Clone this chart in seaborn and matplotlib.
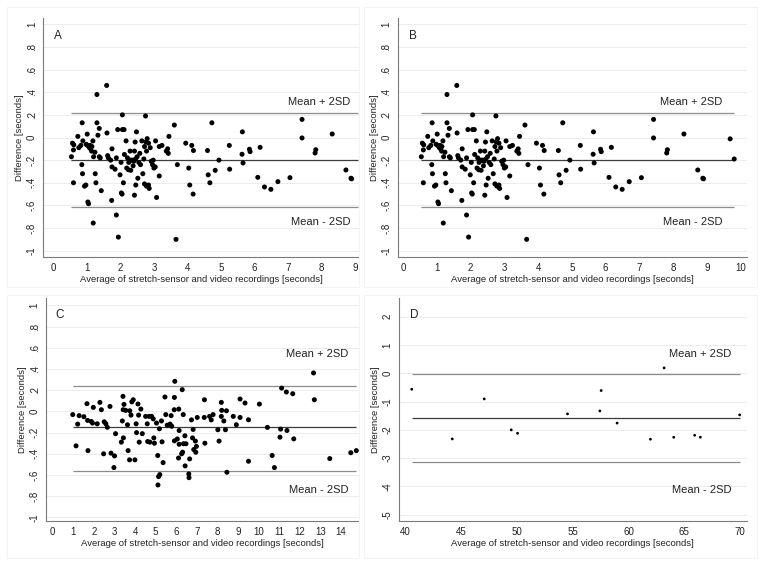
import numpy as np
import pandas as pd
import matplotlib
matplotlib.use("Agg")
import matplotlib.pyplot as plt
import seaborn as sns
from matplotlib.patches import Rectangle

#### Data

# Panel A: average [s] and difference [s]
a_x = [1.59, 1.30, 2.06, 2.75, 0.86, 1.30, 4.73, 3.61, 1.37, 1.92, 2.06, 2.11, 2.48, 1.60,
       1.33, 1.01, 0.73, 3.45, 1.18, 0.88, 0.57, 0.61, 0.76, 0.82, 1.02, 1.07, 1.11, 1.14,
       0.60, 0.54, 1.20, 1.37, 1.75, 1.62, 1.64, 1.71, 1.75, 1.84, 2.12, 2.21, 2.29, 2.42,
       2.44, 2.17, 2.64, 2.76, 2.80, 2.84, 2.89, 3.05, 3.16, 3.24, 3.37, 3.41, 3.43, 3.95,
       4.13, 4.18, 3.70, 4.04, 4.07, 4.17, 4.60, 4.94, 4.62, 4.67, 4.83, 5.25, 5.26, 0.60,
       0.87, 0.85, 0.93, 0.97, 1.03, 1.05, 1.25, 1.27, 1.43, 1.19, 1.74, 1.88, 1.94, 3.66,
       1.99, 2.09, 2.05, 2.03, 2.42, 2.52, 2.46, 2.24, 2.31, 2.19, 2.67, 2.72, 2.78, 2.86,
       2.84, 3.04, 3.08, 3.16, 2.96, 2.38, 2.35, 2.55, 2.60, 2.30, 2.40, 2.45, 2.50, 2.58,
       2.70, 2.72, 2.78, 2.92, 2.98, 3.00, 1.88, 2.02, 2.25, 1.10, 1.15, 1.24, 1.08, 0.98,
       1.40, 5.64, 5.63, 5.66, 5.85, 5.87, 6.17, 6.10, 6.30, 6.49, 6.70, 7.06, 7.42, 7.42,
       7.83, 7.81, 8.32, 8.73, 8.88, 8.90]
a_y = [0.46, 0.38, 0.20, 0.19, 0.13, 0.13, 0.13, 0.11, 0.08, 0.07, 0.07, 0.07, 0.05, 0.04,
       0.02, 0.03, 0.01, 0.01, -0.03, -0.03, -0.05, -0.065, -0.09, -0.07, -0.07, -0.085, -0.10, -0.12,
       -0.11, -0.17, -0.17, -0.17, -0.10, -0.16, -0.18, -0.20, -0.26, -0.28, -0.15, -0.18, -0.12, -0.12,
       -0.04, -0.03, -0.03, -0.04, -0.01, -0.05, -0.09, -0.03, -0.08, -0.07, -0.12, -0.10, -0.14, -0.05,
       -0.07, -0.115, -0.24, -0.27, -0.42, -0.50, -0.115, -0.20, -0.33, -0.40, -0.29, -0.07, -0.28, -0.40,
       -0.32, -0.24, -0.43, -0.42, -0.57, -0.585, -0.32, -0.40, -0.47, -0.756, -0.556, -0.685, -0.88, -0.90,
       -0.33, -0.40, -0.50, -0.49, -0.51, -0.36, -0.42, -0.285, -0.29, -0.27, -0.32, -0.41, -0.43, -0.45,
       -0.42, -0.26, -0.53, -0.34, -0.24, -0.25, -0.20, -0.22, -0.24, -0.20, -0.21, -0.19, -0.17, -0.14,
       -0.19, -0.08, -0.12, -0.21, -0.20, -0.27, -0.18, -0.22, -0.22, -0.07, -0.08, -0.13, -0.09, -0.06,
       -0.18, 0.05, -0.148, -0.225, -0.104, -0.125, -0.087, -0.352, -0.437, -0.458, -0.39, -0.355, 0.16, -0.004,
       -0.108, -0.137, 0.031, -0.287, -0.36, -0.365]
a_lims = [0.22, -0.199, -0.614]   # mean + 2SD, mean, mean - 2SD

# Panel B: same recordings as A plus two long ones
b_extra_x = [9.69, 9.81]
b_extra_y = [-0.012, -0.19]
b_x = a_x + b_extra_x
b_y = a_y + b_extra_y
b_lims = [0.22, -0.199, -0.614]

# Panel C
c_x = [0.97, 1.21, 1.13, 1.28, 1.51, 1.69, 1.66, 1.71, 1.87, 1.97, 1.93, 2.16, 2.29, 2.36,
       2.47, 2.50, 2.58, 2.65, 2.78, 2.83, 2.97, 3.00, 3.05, 3.33, 3.41, 3.42, 3.46, 3.43,
       3.38, 3.54, 3.63, 3.66, 3.73, 3.74, 3.80, 3.84, 3.91, 3.99, 4.05, 4.07, 4.14, 4.17,
       4.20, 4.28, 4.35, 4.51, 4.61, 4.72, 4.59, 4.68, 4.80, 4.88, 4.91, 4.94, 5.04, 5.10,
       5.11, 5.14, 5.20, 5.18, 5.28, 5.31, 5.36, 5.45, 5.49, 5.56, 5.70, 5.78, 5.75, 5.90,
       5.91, 5.93, 5.91, 6.05, 6.12, 6.14, 6.14, 6.11, 6.26, 6.29, 6.31, 6.34, 6.35, 6.42,
       6.43, 6.47, 6.61, 6.62, 6.65, 6.74, 6.82, 6.79, 6.85, 6.93, 6.98, 7.02, 6.95, 7.37,
       7.36, 7.39, 7.62, 7.70, 7.79, 8.02, 8.08, 8.19, 8.19, 8.21, 8.31, 8.39, 8.44, 8.46,
       8.77, 8.92, 9.10, 9.10, 9.34, 9.51, 9.51, 10.04, 10.43, 10.66, 10.77, 11.04, 11.07, 11.12,
       11.35, 11.38, 11.66, 11.71, 12.67, 12.71, 13.46, 14.48, 14.75]
c_y = [-0.03, -0.12, -0.325, -0.04, -0.05, -0.085, 0.073, -0.37, -0.095, 0.038, -0.11, -0.117, 0.085, 0.016,
       -0.40, -0.098, -0.117, -0.15, 0.047, -0.394, -0.53, -0.42, -0.21, -0.29, 0.142, 0.016, 0.066, -0.25,
       -0.09, 0.01, -0.126, -0.37, -0.457, 0.006, -0.035, 0.09, 0.11, -0.457, -0.117, -0.20, 0.07, -0.035,
       -0.29, 0.022, -0.21, -0.047, -0.284, -0.29, -0.117, -0.047, -0.047, -0.07, -0.25, -0.30, -0.11, -0.416,
       -0.694, -0.615, -0.596, -0.164, -0.09, -0.287, -0.483, 0.136, -0.03, -0.13, -0.12, -0.14, -0.04, 0.016,
       0.132, 0.284, -0.278, -0.26, 0.022, -0.18, -0.31, -0.44, -0.40, 0.205, -0.385, -0.03, -0.305, -0.23,
       -0.514, -0.305, -0.59, -0.625, -0.448, -0.08, -0.17, -0.25, -0.36, -0.28, -0.33, -0.057, -0.385, 0.11,
       -0.057, -0.30, -0.047, -0.08, -0.03, -0.173, -0.28, 0.085, -0.047, 0.01, -0.09, -0.173, 0.006, -0.574,
       -0.047, -0.126, 0.117, -0.057, 0.079, -0.079, -0.47, 0.069, -0.151, -0.416, -0.53, -0.243, -0.167, 0.22,
       0.183, -0.18, 0.167, -0.259, 0.363, 0.11, -0.445, -0.39, -0.37]
c_lims = [0.243, -0.151, -0.558]

# Panel D
d_x = [40.54, 47.05, 44.18, 49.47, 50.04, 54.52, 57.42, 57.54, 63.19, 58.97, 61.96, 64.05,
       65.93, 66.44, 69.97]
d_y = [-0.565, -0.906, -2.32, -2.0, -2.12, -1.435, -1.33, -0.61, 0.19, -1.76, -2.33, -2.26,
       -2.19, -2.26, -1.47]
d_lims = [-0.035, -1.565, -3.12]

letters = ["A", "B", "C", "D"]
x_title = "Average of stretch-sensor and video recordings [seconds]"
y_title = "Difference [seconds]"
upper_text = "Mean + 2SD"
lower_text = "Mean - 2SD"


def stata_fmt(v, pos=None):
    # Stata style labels: .2, -.4, 0, 1
    if abs(v) < 1e-9:
        return "0"
    return f"{v:g}".replace("0.", ".")


##### Figure setup
sns.set_style("white")
plt.rcParams['font.family'] = ['Liberation Sans', 'DejaVu Sans']

W, H = 765, 569
fig = plt.figure(figsize=(W / 100, H / 100), dpi=100)
fig.patch.set_facecolor("white")


def px_rect(l, t, r, b):
    return [l / W, 1 - b / H, (r - l) / W, (b - t) / H]


# very faint graph-region frames
for (l, t, r, b) in [(7, 7, 359, 287), (364, 7, 757, 287), (7, 295, 359, 558), (364, 295, 757, 558)]:
    fig.patches.append(Rectangle((l / W, 1 - b / H), (r - l) / W, (b - t) / H,
                                 transform=fig.transFigure, fill=False,
                                 edgecolor="#f3f3f3", linewidth=0.8))

panels = [
    dict(x=a_x, y=a_y, lims=a_lims, rect=px_rect(43.3, 18, 359, 257),
         xlim=(-0.3, 9.12), xticks=np.arange(0, 10), ylim=(-1.056, 1.056),
         yticks=np.round(np.arange(-1, 1.01, 0.2), 1), size=13, line_end=9.08,
         text_x=8.86, up_y=0.31, low_y=-0.744),
    dict(x=b_x, y=b_y, lims=b_lims, rect=px_rect(397.7, 18, 746.7, 257),
         xlim=(-0.16, 10.18), xticks=np.arange(0, 11), ylim=(-1.056, 1.056),
         yticks=np.round(np.arange(-1, 1.01, 0.2), 1), size=13, line_end=None,
         text_x=9.47, up_y=0.31, low_y=-0.75),
    dict(x=c_x, y=c_y, lims=c_lims, rect=px_rect(46, 298, 359, 521),
         xlim=(-0.33, 14.88), xticks=np.arange(0, 15), ylim=(-1.034, 1.07),
         yticks=np.round(np.arange(-1, 1.01, 0.2), 1), size=13, line_end=None,
         text_x=14.38, up_y=0.546, low_y=-0.74),
    dict(x=d_x, y=d_y, lims=d_lims, rect=px_rect(399, 298, 746.7, 521),
         xlim=(39.4, 70.6), xticks=np.arange(40, 71, 5), ylim=(-5.22, 2.66),
         yticks=np.arange(-5, 3), size=4, line_end=None,
         text_x=69.2, up_y=0.68, low_y=-4.12),
]

for letter, p in zip(letters, panels):
    ax = fig.add_axes(p["rect"])
    df = pd.DataFrame({"avg": p["x"], "diff": p["y"]})

    # limits of agreement
    x0 = min(p["x"])
    x1 = p["line_end"] if p["line_end"] is not None else max(p["x"])
    up, mean, low = p["lims"]
    ax.hlines([up, low], x0, x1, color="#8c8c8c", linewidth=0.9, zorder=2)
    ax.hlines(mean, x0, x1, color="#3c3c3c", linewidth=0.9, zorder=2)

    sns.scatterplot(data=df, x="avg", y="diff", ax=ax, color="black", s=p["size"],
                    edgecolor="none", linewidth=0, zorder=3, legend=False)

    ax.set_xlim(*p["xlim"])
    ax.set_ylim(*p["ylim"])
    ax.set_xticks(p["xticks"])
    ax.set_yticks(p["yticks"])
    ax.yaxis.set_major_formatter(plt.FuncFormatter(stata_fmt))

    ax.yaxis.grid(True, color="#e8eef0", linewidth=0.7)
    ax.xaxis.grid(False)
    ax.set_axisbelow(True)

    for side in ["top", "right"]:
        ax.spines[side].set_visible(False)
    for side in ["left", "bottom"]:
        ax.spines[side].set_color("#7a7a7a")
        ax.spines[side].set_linewidth(0.8)

    ax.tick_params(axis="both", which="major", direction="out", length=3, width=0.7,
                   color="#7a7a7a", labelsize=7, pad=1.5, labelcolor="#222222")
    for lab in ax.get_yticklabels():
        lab.set_rotation(90)
        lab.set_va("center")

    ax.set_xlabel(x_title, fontsize=6.8, labelpad=1, color="#222222")
    ax.set_ylabel(y_title, fontsize=6.8, labelpad=2, color="#222222")

    ax.text(p["text_x"], p["up_y"], upper_text, ha="right", va="center", fontsize=8, color="#222222")
    ax.text(p["text_x"], p["low_y"], lower_text, ha="right", va="center", fontsize=8, color="#222222")
    ax.text(0.045, 0.925, letter, transform=ax.transAxes, ha="center", va="center",
            fontsize=8.5, color="#222222")

fig.savefig("out.png", dpi=100, facecolor="white")
